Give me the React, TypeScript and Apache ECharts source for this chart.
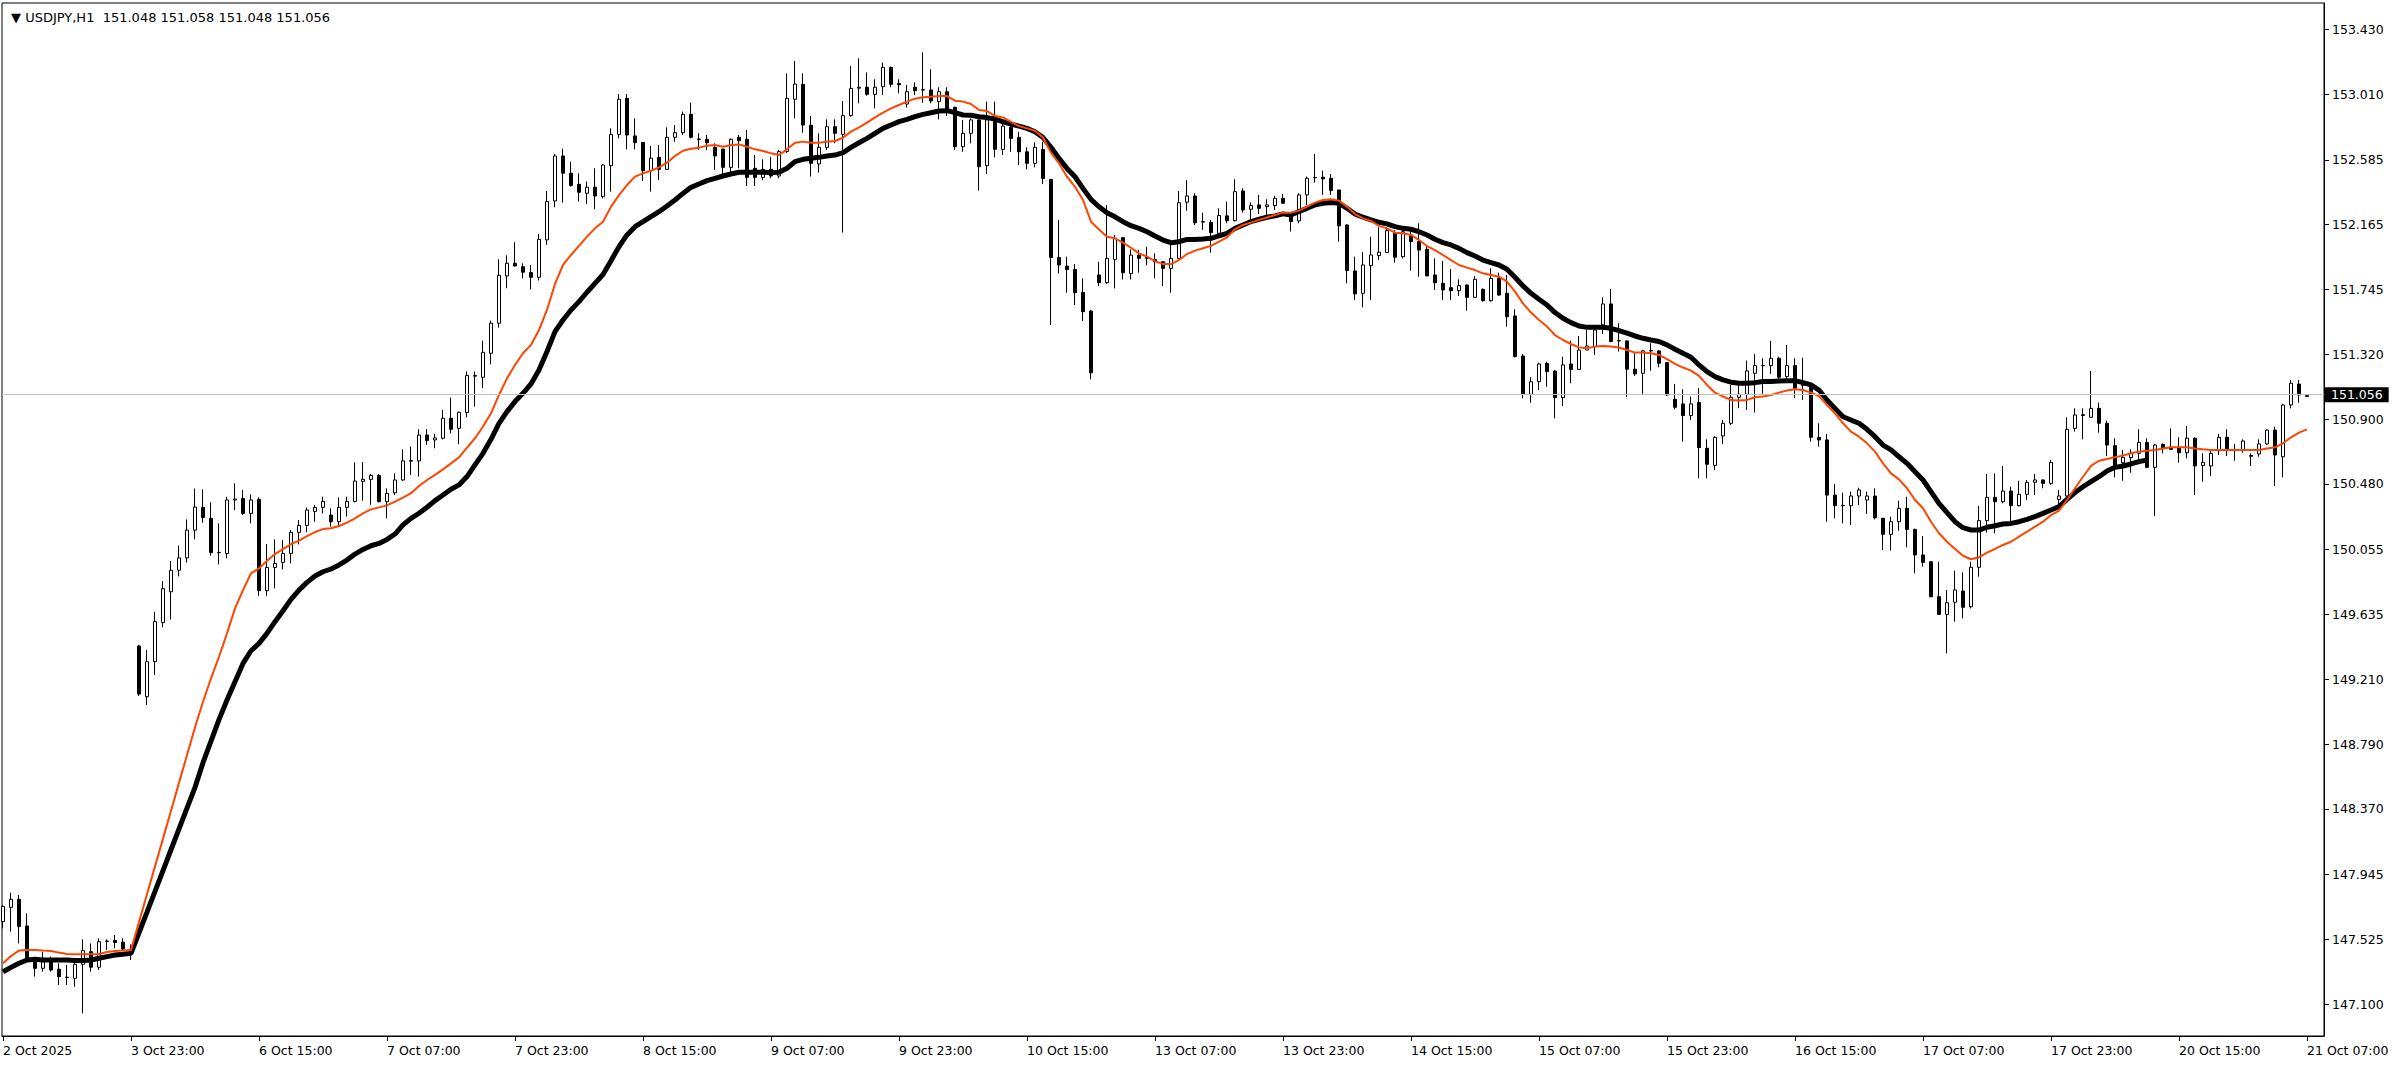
import React, { useEffect, useRef } from "react";
import * as echarts from "echarts";

// ---- data (USDJPY H1), bar index 0..288 ----
const openP = [
  147.638,147.731,147.783,147.610,147.400,147.335,147.389,147.329,147.275,147.270,
  147.361,147.443,147.342,147.510,147.516,147.505,147.460,149.428,149.099,149.326,
  149.580,149.780,149.920,150.000,150.180,150.328,150.257,150.034,150.029,150.376,
  150.386,150.289,150.380,149.787,149.938,149.971,150.029,150.166,150.211,150.302,
  150.328,150.278,150.235,150.328,150.367,150.497,150.510,150.536,150.365,150.423,
  150.506,150.628,150.630,150.798,150.766,150.777,150.907,150.842,150.944,151.180,
  151.173,151.329,151.524,151.831,151.913,151.891,151.853,151.822,152.065,152.318,
  152.610,152.498,152.426,152.368,152.407,152.346,152.547,152.750,152.984,152.740,
  152.698,152.514,152.601,152.523,152.731,152.761,152.880,152.720,152.718,152.666,
  152.655,152.536,152.731,152.718,152.530,152.471,152.523,152.480,152.638,152.978,
  153.075,152.809,152.558,152.666,152.800,152.750,152.872,153.050,153.056,153.010,
  153.060,153.185,153.080,152.947,153.056,153.040,153.038,152.963,153.027,152.926,
  152.670,152.757,152.844,152.547,152.861,152.653,152.795,152.731,152.637,152.562,
  152.653,152.458,151.951,151.895,151.873,151.724,151.603,151.837,151.787,151.938,
  152.079,151.847,151.966,151.950,151.938,151.923,151.880,151.945,152.310,152.350,
  152.180,152.179,152.108,152.221,152.190,152.383,152.264,152.292,152.281,152.288,
  152.335,152.227,152.188,152.357,152.468,152.472,152.465,152.389,152.162,151.863,
  151.718,151.898,151.963,151.983,152.108,151.956,152.097,152.054,152.004,151.837,
  151.783,151.755,151.735,151.772,151.692,151.744,151.670,151.815,151.718,151.571,
  151.311,151.062,151.144,151.263,151.213,151.041,151.259,151.224,151.350,151.372,
  151.513,151.649,151.410,151.409,151.225,151.199,151.344,151.344,151.268,151.030,
  151.000,150.924,151.009,150.712,150.601,150.792,150.874,151.043,151.063,151.199,
  151.248,151.249,151.296,151.177,151.249,151.120,151.112,150.783,150.766,150.408,
  150.339,150.339,150.402,150.376,150.402,150.257,150.153,150.235,150.322,150.185,
  150.019,149.975,149.748,149.633,149.712,149.785,149.683,149.939,150.242,150.393,
  150.365,150.434,150.339,150.413,150.491,150.506,150.484,150.380,150.402,150.841,
  150.930,150.913,150.971,150.874,150.729,150.618,150.651,150.679,150.750,150.588,
  150.737,150.718,150.718,150.683,150.777,150.600,150.597,150.696,150.783,150.700,
  150.701,150.665,150.675,150.740,150.830,150.657,150.993,151.129,151.048,
];
const highP = [
  147.745,147.826,147.811,147.692,147.405,147.443,147.411,147.368,147.357,147.400,
  147.523,147.497,147.530,147.523,147.552,147.530,147.490,149.435,149.402,149.650,
  149.850,149.980,150.080,150.250,150.450,150.445,150.361,150.224,150.397,150.484,
  150.441,150.412,150.393,150.090,150.120,150.116,150.181,150.246,150.328,150.343,
  150.397,150.322,150.393,150.397,150.620,150.622,150.545,150.545,150.451,150.549,
  150.705,150.723,150.835,150.837,150.805,150.961,151.041,150.950,151.210,151.210,
  151.411,151.541,151.939,151.965,152.050,151.913,151.902,152.104,152.383,152.623,
  152.656,152.573,152.498,152.444,152.530,152.558,152.789,153.012,153.012,152.854,
  152.700,152.675,152.681,152.796,152.811,152.898,152.956,152.757,152.746,152.692,
  152.655,152.724,152.746,152.779,152.616,152.588,152.605,152.649,153.146,153.227,
  153.147,152.870,152.757,152.848,152.848,152.967,153.194,153.244,153.153,153.108,
  153.216,153.190,153.108,153.071,153.088,153.283,153.173,153.056,153.056,152.930,
  152.844,152.854,152.848,152.963,152.963,152.832,152.811,152.767,152.666,152.698,
  152.702,152.460,152.194,151.956,151.908,151.815,151.610,151.923,152.291,152.097,
  152.080,152.003,152.000,152.020,151.977,151.925,152.042,152.382,152.453,152.367,
  152.242,152.194,152.270,152.314,152.459,152.400,152.309,152.357,152.329,152.350,
  152.363,152.242,152.368,152.476,152.623,152.515,152.493,152.390,152.165,151.956,
  151.985,152.086,152.147,152.147,152.130,152.140,152.134,152.173,152.032,151.945,
  151.928,151.876,151.809,151.775,151.830,151.750,151.880,151.852,151.837,151.614,
  151.324,151.173,151.268,151.274,151.220,151.307,151.411,151.441,151.480,151.484,
  151.692,151.747,151.524,151.410,151.329,151.350,151.394,151.350,151.270,151.130,
  151.095,151.048,151.102,150.770,150.790,150.896,151.123,151.123,151.281,151.325,
  151.296,151.409,151.307,151.383,151.296,151.300,151.123,150.874,150.805,150.480,
  150.424,150.430,150.456,150.430,150.452,150.260,150.268,150.372,150.397,150.190,
  150.142,149.980,149.975,149.792,149.917,149.906,149.975,150.337,150.545,150.549,
  150.597,150.462,150.501,150.506,150.545,150.510,150.636,150.441,150.913,150.971,
  150.971,151.214,151.008,150.891,150.777,150.701,150.705,150.835,150.777,150.740,
  150.744,150.841,150.783,150.856,150.783,150.680,150.701,150.805,150.835,150.740,
  150.770,150.679,150.770,150.835,150.852,151.000,151.155,151.155,151.058,
];
const lowP = [
  147.595,147.573,147.497,147.395,147.281,147.313,147.313,147.227,147.227,147.216,
  147.043,147.313,147.324,147.454,147.465,147.454,147.389,149.103,149.045,149.240,
  149.550,149.600,149.880,149.970,150.120,150.228,150.014,149.958,149.997,150.311,
  150.278,150.224,149.754,149.754,149.802,149.925,149.964,150.088,150.166,150.235,
  150.289,150.203,150.203,150.268,150.360,150.371,150.345,150.360,150.257,150.408,
  150.500,150.539,150.528,150.734,150.712,150.770,150.809,150.738,150.913,150.982,
  151.102,151.257,151.495,151.751,151.892,151.816,151.744,151.801,152.032,152.277,
  152.307,152.411,152.314,152.298,152.264,152.335,152.378,152.724,152.653,152.653,
  152.447,152.378,152.454,152.519,152.703,152.746,152.724,152.649,152.649,152.519,
  152.493,152.497,152.530,152.415,152.415,152.454,152.465,152.465,152.630,152.854,
  152.761,152.476,152.502,152.649,152.692,152.112,152.865,152.952,153.001,152.919,
  153.006,153.056,153.017,152.924,153.006,152.956,152.952,152.848,152.870,152.649,
  152.638,152.692,152.385,152.493,152.601,152.616,152.637,152.551,152.523,152.536,
  152.427,151.512,151.847,151.722,151.642,151.538,151.159,151.765,151.780,151.750,
  151.808,151.808,151.852,151.900,151.815,151.765,151.722,151.940,152.254,152.161,
  152.130,151.982,152.086,152.173,152.184,152.242,152.199,152.233,152.220,152.259,
  152.300,152.119,152.173,152.292,152.437,152.357,152.357,152.054,151.783,151.675,
  151.627,151.675,151.935,151.980,151.917,151.945,151.865,151.826,151.830,151.740,
  151.675,151.675,151.701,151.605,151.690,151.664,151.664,151.701,151.501,151.302,
  151.036,151.008,151.090,151.112,150.906,150.986,151.134,151.220,151.350,151.318,
  151.454,151.400,151.340,151.043,151.182,151.065,151.216,151.238,151.052,150.965,
  150.755,150.896,150.517,150.517,150.571,150.740,150.863,150.972,150.961,150.944,
  151.058,151.195,151.145,151.156,151.037,151.025,150.755,150.722,150.235,150.257,
  150.224,150.214,150.343,150.285,150.250,150.051,150.047,150.177,150.069,149.900,
  149.943,149.744,149.630,149.380,149.586,149.607,149.672,149.878,150.164,150.160,
  150.354,150.224,150.333,150.376,150.408,150.452,150.473,150.333,150.398,150.820,
  150.770,150.910,150.813,150.662,150.523,150.501,150.553,150.640,150.582,150.272,
  150.679,150.701,150.618,150.646,150.408,150.495,150.532,150.668,150.662,150.631,
  150.683,150.597,150.657,150.733,150.467,150.523,150.971,151.008,151.048,
];
const closeP = [
  147.736,147.783,147.606,147.400,147.335,147.378,147.324,147.281,147.277,147.361,
  147.450,147.342,147.508,147.512,147.503,147.460,147.455,149.116,149.326,149.586,
  149.800,149.920,150.000,150.180,150.330,150.263,150.034,150.036,150.376,150.382,
  150.289,150.376,149.787,149.938,149.964,150.029,150.166,150.211,150.311,150.328,
  150.367,150.235,150.328,150.367,150.499,150.510,150.536,150.365,150.419,150.506,
  150.630,150.632,150.798,150.762,150.779,150.907,150.835,150.946,151.184,151.184,
  151.335,151.524,151.835,151.913,151.896,151.855,151.822,152.069,152.314,152.610,
  152.498,152.418,152.374,152.407,152.350,152.551,152.750,152.978,152.746,152.696,
  152.514,152.595,152.523,152.731,152.761,152.880,152.731,152.718,152.696,152.610,
  152.536,152.718,152.709,152.471,152.471,152.523,152.480,152.638,152.984,153.077,
  152.811,152.562,152.666,152.800,152.757,152.872,153.049,153.056,153.010,153.056,
  153.185,153.075,153.072,153.027,153.034,153.038,152.967,153.027,152.913,152.670,
  152.757,152.844,152.540,152.844,152.653,152.804,152.724,152.637,152.562,152.666,
  152.464,151.951,151.902,151.873,151.722,151.599,151.202,151.787,151.945,152.075,
  151.852,151.966,151.945,151.945,151.923,151.880,151.945,152.306,152.350,152.176,
  152.184,152.112,152.223,152.190,152.378,152.259,152.288,152.270,152.292,152.335,
  152.303,152.184,152.357,152.465,152.470,152.461,152.385,152.156,151.866,151.714,
  151.902,151.967,151.985,152.125,151.952,152.118,152.054,151.999,151.831,151.787,
  151.740,151.735,151.768,151.692,151.809,151.670,151.815,151.707,151.566,151.307,
  151.062,151.144,151.259,151.209,151.041,151.253,151.224,151.350,151.376,151.480,
  151.649,151.405,151.409,151.225,151.195,151.344,151.346,151.264,151.058,150.978,
  150.924,151.000,150.716,150.608,150.783,150.874,151.043,151.063,151.214,151.249,
  151.249,151.296,151.173,151.249,151.102,151.123,150.783,150.766,150.408,150.339,
  150.341,150.402,150.441,150.402,150.261,150.153,150.235,150.322,150.185,150.019,
  149.971,149.748,149.633,149.709,149.792,149.679,149.939,150.242,150.393,150.365,
  150.434,150.339,150.413,150.491,150.506,150.484,150.620,150.402,150.835,150.928,
  150.924,150.971,150.874,150.733,150.592,150.653,150.679,150.750,150.588,150.733,
  150.711,150.705,150.683,150.777,150.597,150.620,150.679,150.783,150.705,150.705,
  150.759,150.660,150.740,150.830,150.668,150.993,151.134,151.058,151.056,
];
// orange (fast) moving average, one value per bar
const maFast = [
  147.368,147.415,147.450,147.454,147.454,147.450,147.448,147.437,147.428,147.426,
  147.426,147.426,147.428,147.441,147.448,147.450,147.454,147.635,147.816,147.997,
  148.177,148.358,148.539,148.720,148.900,149.066,149.218,149.358,149.510,149.672,
  149.791,149.900,149.932,149.982,150.025,150.057,150.090,150.112,150.142,150.168,
  150.187,150.192,150.207,150.229,150.257,150.289,150.315,150.328,150.341,150.365,
  150.392,150.420,150.467,150.506,150.539,150.575,150.614,150.653,150.716,150.777,
  150.853,150.939,151.058,151.166,151.253,151.329,151.383,151.480,151.610,151.779,
  151.902,151.967,152.026,152.086,152.140,152.183,152.281,152.356,152.421,152.476,
  152.497,152.514,152.536,152.566,152.610,152.644,152.657,152.664,152.677,152.681,
  152.670,152.681,152.685,152.670,152.653,152.642,152.627,152.616,152.653,152.696,
  152.703,152.696,152.696,152.703,152.707,152.729,152.768,152.796,152.826,152.861,
  152.891,152.919,152.941,152.963,152.982,152.991,152.995,152.999,152.999,152.969,
  152.963,152.947,152.908,152.902,152.869,152.860,152.832,152.804,152.789,152.774,
  152.730,152.631,152.562,152.475,152.410,152.324,152.183,152.133,152.086,152.075,
  152.047,152.014,151.977,151.956,151.927,151.908,151.908,151.934,151.973,151.995,
  152.011,152.026,152.054,152.082,152.134,152.162,152.177,152.195,152.210,152.227,
  152.242,152.242,152.255,152.281,152.307,152.324,152.329,152.320,152.281,152.233,
  152.205,152.188,152.156,152.140,152.112,152.108,152.097,152.064,152.025,151.999,
  151.967,151.934,151.902,151.885,151.869,151.848,151.837,151.826,151.794,151.729,
  151.653,151.593,151.545,151.502,151.447,151.415,151.389,151.367,151.361,151.372,
  151.376,151.372,151.366,151.350,151.333,151.333,151.329,151.318,151.290,151.260,
  151.236,151.216,151.182,151.123,151.073,151.048,151.026,151.022,151.026,151.043,
  151.048,151.058,151.073,151.087,151.095,151.090,151.073,151.051,150.993,150.939,
  150.874,150.820,150.787,150.744,150.690,150.614,150.549,150.510,150.452,150.376,
  150.322,150.235,150.160,150.105,150.058,150.014,149.991,150.004,150.034,150.058,
  150.084,150.105,150.138,150.170,150.203,150.235,150.278,150.307,150.376,150.452,
  150.527,150.597,150.631,150.642,150.653,150.664,150.679,150.690,150.696,150.701,
  150.711,150.718,150.718,150.718,150.711,150.705,150.701,150.701,150.701,150.701,
  150.701,150.701,150.701,150.711,150.718,150.744,150.783,150.813,150.835,
];
// black (slow, shifted) moving average, bars 0..268
const maSlow = [
  147.313,147.341,147.368,147.389,147.394,147.389,147.389,147.389,147.389,147.385,
  147.385,147.389,147.400,147.411,147.421,147.426,147.432,147.566,147.700,147.835,
  147.970,148.105,148.240,148.375,148.510,148.670,148.810,148.950,149.077,149.196,
  149.315,149.397,149.445,149.510,149.586,149.657,149.731,149.791,149.841,149.882,
  149.910,149.928,149.954,149.986,150.025,150.055,150.079,150.094,150.120,150.155,
  150.214,150.257,150.290,150.329,150.372,150.409,150.446,150.474,150.528,150.604,
  150.679,150.770,150.874,150.950,151.015,151.069,151.130,151.220,151.340,151.469,
  151.545,151.610,151.664,151.725,151.783,151.840,151.930,152.021,152.097,152.151,
  152.183,152.216,152.248,152.285,152.324,152.367,152.406,152.428,152.450,152.465,
  152.480,152.493,152.504,152.504,152.504,152.504,152.502,152.504,152.530,152.573,
  152.588,152.595,152.601,152.610,152.616,152.631,152.666,152.696,152.724,152.757,
  152.789,152.811,152.833,152.848,152.865,152.880,152.891,152.902,152.904,152.891,
  152.876,152.874,152.865,152.859,152.850,152.832,152.817,152.804,152.789,152.767,
  152.730,152.666,152.594,152.529,152.475,152.399,152.328,152.280,152.241,152.215,
  152.183,152.157,152.140,152.118,152.090,152.064,152.047,152.053,152.068,152.068,
  152.071,152.075,152.091,152.108,152.140,152.162,152.184,152.199,152.212,152.221,
  152.234,152.227,152.249,152.270,152.292,152.303,152.307,152.303,152.270,152.233,
  152.212,152.195,152.179,152.169,152.151,152.140,152.134,152.118,152.097,152.069,
  152.047,152.032,152.010,151.982,151.960,151.934,151.917,151.902,151.874,151.822,
  151.766,151.718,151.679,151.642,151.593,151.556,151.528,151.506,151.497,151.497,
  151.498,151.491,151.476,151.459,151.441,151.426,151.415,151.405,151.383,151.355,
  151.329,151.303,151.253,151.210,151.177,151.156,151.141,151.134,151.134,151.138,
  151.145,151.145,151.149,151.151,151.151,151.138,151.123,151.090,151.025,150.971,
  150.917,150.895,150.874,150.835,150.787,150.733,150.701,150.657,150.614,150.560,
  150.506,150.430,150.354,150.294,150.235,150.196,150.181,150.181,150.199,150.209,
  150.220,150.224,150.235,150.250,150.268,150.289,150.311,150.333,150.380,150.424,
  150.462,150.495,150.527,150.564,150.588,150.597,150.610,150.625,150.636,
];
const timeLabels = [
  "2 Oct 2025", "3 Oct 23:00", "6 Oct 15:00", "7 Oct 07:00", "7 Oct 23:00",
  "8 Oct 15:00", "9 Oct 07:00", "9 Oct 23:00", "10 Oct 15:00", "13 Oct 07:00",
  "13 Oct 23:00", "14 Oct 15:00", "15 Oct 07:00", "15 Oct 23:00", "16 Oct 15:00",
  "17 Oct 07:00", "17 Oct 23:00", "20 Oct 15:00", "21 Oct 07:00",
];
const timeLabelBars = [0, 16, 32, 48, 64, 80, 96, 112, 128, 144, 160, 176, 192, 208, 224, 240, 256, 272, 288];
const priceTicks = [
  153.43, 153.01, 152.585, 152.165, 151.745, 151.32, 150.9, 150.48,
  150.055, 149.635, 149.21, 148.79, 148.37, 147.945, 147.525, 147.1,
];
const symbolName = "USDJPY,H1";

const FONT = "DejaVu Sans";

export default function App() {
  const ref = useRef<HTMLDivElement>(null);
  useEffect(() => {
    if (!ref.current) return;
    const chart = echarts.init(ref.current, undefined, { renderer: "svg" });
    const n = closeP.length;
    const candles = openP.map((o, i) => [i, o, closeP[i], lowP[i], highP[i]]);
    const fast = maFast.map((v, i) => [i, v]);
    const slow = maSlow.map((v, i) => [i, v]);
    const last = n - 1;
    const header =
      "\u25BC " + symbolName + "  " +
      openP[last].toFixed(3) + " " + highP[last].toFixed(3) + " " +
      lowP[last].toFixed(3) + " " + closeP[last].toFixed(3);

    chart.setOption({
      animation: false,
      backgroundColor: "#ffffff",
      textStyle: { fontFamily: FONT },
      title: {
        text: header,
        left: 6,
        top: 6,
        textStyle: { fontFamily: FONT, fontSize: 13, fontWeight: "normal", color: "#000" },
      },
      grid: {
        left: 2, right: 72, top: 3, bottom: 29,
        show: true, borderColor: "#000", borderWidth: 1, backgroundColor: "#fff",
      },
      xAxis: {
        type: "value",
        min: -0.125,
        max: 290.125,
        axisLine: { show: true, onZero: false, lineStyle: { color: "#000", width: 1 } },
        axisTick: { show: true, customValues: timeLabelBars, length: 5, lineStyle: { color: "#000" } },
        axisLabel: {
          customValues: timeLabelBars,
          formatter: (v: number) => {
            const k = timeLabelBars.indexOf(Math.round(v));
            return k >= 0 ? timeLabels[k] : "";
          },
          align: "left",
          margin: 8,
          color: "#000",
          fontSize: 12.5,
          fontFamily: FONT,
        },
        splitLine: { show: false },
      },
      yAxis: {
        type: "value",
        position: "right",
        min: 146.8955,
        max: 153.6032,
        axisLine: { show: true, onZero: false, lineStyle: { color: "#000", width: 1 } },
        axisTick: { show: true, customValues: priceTicks, length: 5, lineStyle: { color: "#000" } },
        axisLabel: {
          customValues: priceTicks,
          formatter: (v: number) => v.toFixed(3),
          margin: 8,
          color: "#000",
          fontSize: 12.5,
          fontFamily: FONT,
        },
        splitLine: { show: false },
      },
      series: [
        {
          type: "candlestick",
          data: candles,
          barWidth: 4,
          itemStyle: {
            color: "#ffffff",
            color0: "#000000",
            borderColor: "#000000",
            borderColor0: "#000000",
            borderColorDoji: "#000000",
            borderWidth: 1,
          },
          markLine: {
            silent: true,
            symbol: "none",
            data: [{ yAxis: closeP[last] }],
            lineStyle: { color: "#c0c0c0", width: 1, type: "solid" },
            label: {
              show: true,
              position: "end",
              distance: 1,
              formatter: closeP[last].toFixed(3),
              color: "#ffffff",
              backgroundColor: "#000000",
              padding: [1, 6, 1, 6],
              fontSize: 12.5,
              fontFamily: FONT,
            },
          },
        },
        {
          type: "line",
          data: slow,
          showSymbol: false,
          lineStyle: { color: "#000000", width: 5 },
          itemStyle: { color: "#000" },
          z: 3,
        },
        {
          type: "line",
          data: fast,
          showSymbol: false,
          lineStyle: { color: "#ff4500", width: 2 },
          itemStyle: { color: "#ff4500" },
          z: 4,
        },
      ],
    });
    return () => chart.dispose();
  }, []);
  return (
    <div
      ref={ref}
      style={{ position: "fixed", left: 0, top: 0, width: 2396, height: 1065 }}
    />
  );
}
